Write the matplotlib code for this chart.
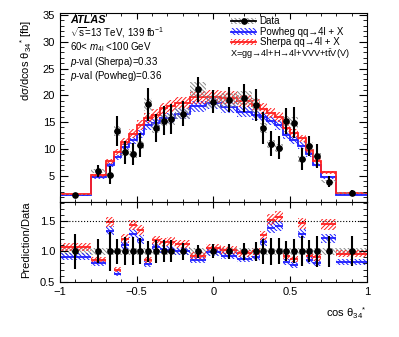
import matplotlib
matplotlib.use("Agg")
import matplotlib.pyplot as plt
import numpy as np
from matplotlib.patches import Patch
from matplotlib.lines import Line2D
from matplotlib.ticker import MultipleLocator

plt.rcParams['font.family'] = ['Liberation Sans', 'DejaVu Sans']
plt.rcParams['mathtext.fontset'] = 'custom'
plt.rcParams['mathtext.rm'] = 'Liberation Sans'
plt.rcParams['mathtext.it'] = 'Liberation Sans:italic'
plt.rcParams['mathtext.bf'] = 'Liberation Sans:bold'
plt.rcParams['mathtext.default'] = 'regular'
plt.rcParams['hatch.linewidth'] = 0.7

# bin edges in cos theta*_34
edges = [-1.0, -0.8, -0.7, -0.65, -0.6, -0.55, -0.5, -0.45, -0.4, -0.35, -0.3, -0.25,
         -0.15, -0.05, 0.05, 0.15, 0.25, 0.3, 0.35, 0.4, 0.45, 0.5, 0.55, 0.6, 0.65,
         0.7, 0.8, 1.0]

# measured cross section [fb]
data = [1.45, 5.9, 5.2, 13.4, 9.4, 9.0, 10.7, 18.3, 13.9, 15.3, 15.5, 16.6, 21.1,
        18.8, 19.2, 19.5, 18.2, 13.9, 11.0, 10.2, 15.2, 14.9, 8.2, 10.6, 8.7, 3.9, 1.8]
data_err = [0.42, 1.18, 1.66, 2.8, 2.16, 2.07, 2.25, 3.1, 2.64, 2.75, 2.8, 2.3, 2.3,
            2.16, 2.3, 2.7, 2.9, 2.9, 2.4, 2.15, 2.5, 2.9, 2.05, 1.9, 2.2, 0.98, 0.45]
data_sys = [0.1, 0.4, 0.36, 0.9, 0.65, 0.63, 0.75, 1.2, 0.95, 1.05, 1.05, 1.1, 1.4,
            1.25, 1.3, 1.3, 1.25, 0.95, 0.75, 0.7, 1.0, 1.0, 0.55, 0.72, 0.6, 0.27, 0.12]

# predictions [fb]
sherpa = [1.55, 5.07, 7.7, 9.38, 11.37, 12.87, 14.45, 15.74, 16.4, 17.6, 17.98, 18.59,
          19.62, 19.74, 19.58, 18.92, 18.2, 17.51, 16.72, 16.01, 13.98, 12.97, 11.97,
          9.86, 7.83, 5.62, 1.73]
powheg = [1.32, 4.72, 6.97, 8.44, 10.34, 11.61, 12.73, 14.46, 14.87, 15.76, 15.81, 16.6,
          17.94, 18.61, 17.86, 16.97, 16.38, 15.99, 15.29, 14.48, 12.62, 11.62, 10.58,
          9.01, 7.05, 4.72, 1.48]
sherpa_unc = 0.06
powheg_unc = 0.06

edges = np.array(edges)
data = np.array(data)
data_err = np.array(data_err)
data_sys = np.array(data_sys)
sherpa = np.array(sherpa)
powheg = np.array(powheg)
centers = 0.5 * (edges[:-1] + edges[1:])
widths = edges[1:] - edges[:-1]

RED = '#ff2020'
BLUE = '#1f1fff'
GREY = '#8a8a8a'
H_RED = '/' * 8
H_BLUE = '\\' * 8
H_GREY = '\\' * 8

fig = plt.figure(figsize=(3.99, 3.37), dpi=100)
ax1 = fig.add_axes([0.150, 0.4006, 0.770, 0.5599])
ax2 = fig.add_axes([0.150, 0.1623, 0.770, 0.2383], sharex=ax1)

# main panel
for vals, unc, col, hat in [(powheg, powheg_unc, BLUE, H_BLUE),
                            (sherpa, sherpa_unc, RED, H_RED)]:
    ax1.bar(centers, 2 * unc * vals, bottom=vals * (1 - unc), width=widths,
            fill=False, hatch=hat, edgecolor=col, linewidth=0)
    ax1.stairs(vals, edges, color=col, linewidth=1.3, baseline=None)

ax1.bar(centers, 2 * data_sys, bottom=data - data_sys, width=widths, fill=False,
        hatch=H_GREY, edgecolor=GREY, linewidth=0)
ax1.errorbar(centers, data, yerr=data_err, fmt='o', color='black', ms=3.8,
             elinewidth=1.5, capsize=0)

ax1.set_xlim(-1, 1)
ax1.set_ylim(0.1, 35.3)
ax1.yaxis.set_major_locator(MultipleLocator(5))
ax1.yaxis.set_minor_locator(MultipleLocator(1))
ax1.xaxis.set_major_locator(MultipleLocator(0.5))
ax1.xaxis.set_minor_locator(MultipleLocator(0.1))
ax1.tick_params(labelbottom=False)

# ratio panel
ax2.bar(0, 2 * 0.06, bottom=0.94, width=2, fill=False, hatch=H_GREY,
        edgecolor=GREY, linewidth=0)
for vals, unc, col, hat in [(powheg, powheg_unc, BLUE, H_BLUE),
                            (sherpa, sherpa_unc, RED, H_RED)]:
    r = vals / data
    ax2.bar(centers, 2 * unc * r, bottom=r * (1 - unc), width=widths,
            fill=False, hatch=hat, edgecolor=col, linewidth=0)
    ax2.hlines(r, edges[:-1], edges[1:], color=col, linewidth=1.3)
ax2.axhline(1.5, color='black', linestyle=':', linewidth=0.8)
ax2.errorbar(centers, np.ones_like(data), yerr=data_err / data, fmt='o',
             color='black', ms=3.8, elinewidth=1.5, capsize=0)
ax2.set_ylim(0.49, 1.81)
ax2.yaxis.set_major_locator(MultipleLocator(0.5))
ax2.yaxis.set_minor_locator(MultipleLocator(0.1))
ax2.set_xticks([-1, -0.5, 0, 0.5, 1])
ax2.set_xticklabels(['\u22121', '\u22120.5', '0', '0.5', '1'])

for ax in (ax1, ax2):
    ax.tick_params(which='both', direction='in', top=True, right=True, labelsize=8)
    ax.tick_params(axis='y', which='major', length=5.5)
    ax.tick_params(axis='y', which='minor', length=3)
    ax.tick_params(axis='x', which='major', length=4)
    ax.tick_params(axis='x', which='minor', length=2)
    for s in ax.spines.values():
        s.set_linewidth(0.8)

fig.text(0.065, 1 - 20 / 337, r'd$\sigma$/dcos $\theta_{34}{}^{*}$ [fb]',
         rotation=90, ha='center', va='top', fontsize=8)
fig.text(0.065, 1 - 240 / 337, 'Prediction/Data', rotation=90, ha='center',
         va='center', fontsize=8)
fig.text(0.920, 1 - 313 / 337, r'cos $\theta_{34}{}^{*}$', ha='right',
         va='center', fontsize=8)

# labels
x0 = 70 / 399
fig.text(x0, 1 - 20 / 337, 'ATLAS', fontsize=7.8, fontweight='bold',
         fontstyle='italic', va='center')
fig.text(x0, 1 - 33 / 337, r'$\sqrt{s}$=13 TeV, 139 fb$^{-1}$', fontsize=7, va='center')
fig.text(x0, 1 - 47 / 337, r'60< $\mathit{m}_{4l}$ <100 GeV', fontsize=7, va='center')
fig.text(x0, 1 - 62 / 337, r'$\mathit{p}$-val (Sherpa)=0.33', fontsize=7, va='center')
fig.text(x0, 1 - 76 / 337, r'$\mathit{p}$-val (Powheg)=0.36', fontsize=7, va='center')

handles = [
    (Patch(fill=False, hatch=H_GREY, edgecolor=GREY, linewidth=0),
     Line2D([], [], color='black', marker='o', ms=3.8, linewidth=1.3)),
    (Patch(fill=False, hatch=H_BLUE, edgecolor=BLUE, linewidth=0),
     Line2D([], [], color=BLUE, linewidth=1.3)),
    (Patch(fill=False, hatch=H_RED, edgecolor=RED, linewidth=0),
     Line2D([], [], color=RED, linewidth=1.3)),
]
labels = ['Data', 'Powheg qq\u21924l + X', 'Sherpa qq\u21924l + X']
ax1.legend(handles, labels, loc='upper left', bbox_to_anchor=(231 / 399, 1 - 16.5 / 337),
           bbox_transform=fig.transFigure, frameon=False, fontsize=7,
           handlelength=2.6, handleheight=0.6, handletextpad=0.35, labelspacing=0.05,
           borderaxespad=0, borderpad=0)
fig.text(230 / 399, 1 - 54 / 337,
         'X=gg\u21924l+H\u21924l+VVV+$\\mathrm{t\\bar{t}}$V(V)',
         fontsize=6.6, va='center')

fig.savefig('out.png', dpi=100)
